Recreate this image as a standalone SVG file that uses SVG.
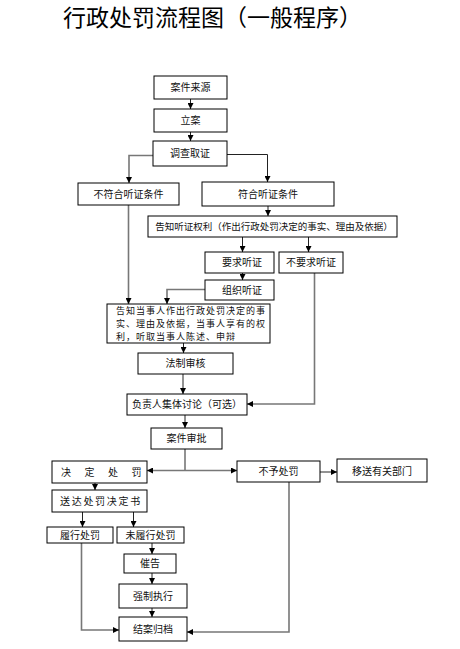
<svg xmlns="http://www.w3.org/2000/svg" width="460" height="649" viewBox="0 0 460 649">
<style>
.b{fill:#fff;stroke:#000;stroke-width:1}
.t{font-family:"Noto Sans CJK SC","Noto Sans",sans-serif;font-size:10px;fill:#111;text-anchor:middle}
.l{font-family:"Noto Sans CJK SC","Noto Sans",sans-serif;font-size:10px;fill:#111}
.m{font-family:"Noto Sans CJK SC","Noto Sans",sans-serif;font-size:9px;letter-spacing:1px;fill:#111}
.c{fill:none;stroke:#222;stroke-width:1}
.g{fill:none;stroke:#777;stroke-width:1.6}
</style>
<defs>
<marker id="a" markerUnits="userSpaceOnUse" markerWidth="6" markerHeight="6" refX="6" refY="3" orient="auto">
<path d="M0,0 L6,3 L0,6 z" fill="#000"/>
</marker>
</defs>
<rect width="460" height="649" fill="#fff"/>
<text x="63" y="26" style="font-family:'Noto Sans CJK SC',sans-serif;font-size:23px;fill:#000">行政处罚流程图（一般程序）</text>

<g id="connectors">
<path class="c" d="M190.5,99 V109" marker-end="url(#a)"/>
<path class="c" d="M190.5,132 V141" marker-end="url(#a)"/>
<path class="g" d="M153,155.5 H129 V183" marker-end="url(#a)"/>
<path class="c" d="M227,154.5 H267.5 V182" marker-end="url(#a)"/>
<path class="c" d="M268,206 V216" marker-end="url(#a)"/>
<path class="c" d="M242.5,237 V252" marker-end="url(#a)"/>
<path class="c" d="M308.5,237 V252" marker-end="url(#a)"/>
<path class="c" d="M242.5,273 V280" marker-end="url(#a)"/>
<path class="g" d="M205,289.5 H167 V304" marker-end="url(#a)"/>
<path class="g" d="M128.5,205 V304" marker-end="url(#a)"/>
<path class="c" d="M183.5,343 V353" marker-end="url(#a)"/>
<path class="g" d="M183,374 V394" marker-end="url(#a)"/>
<path class="g" d="M314.5,273 V404 H247" marker-end="url(#a)"/>
<path class="c" d="M185,415 V428" marker-end="url(#a)"/>
<path class="g" d="M185,449 V470.5"/>
<path class="g" d="M185,470.5 H147" marker-end="url(#a)"/>
<path class="g" d="M185,470.5 H237" marker-end="url(#a)"/>
<path class="g" d="M320,472 H337" marker-end="url(#a)"/>
<path class="c" d="M95,483 V490" marker-end="url(#a)"/>
<path class="c" d="M82.5,512 V527" marker-end="url(#a)"/>
<path class="c" d="M133.5,512 V527" marker-end="url(#a)"/>
<path class="c" d="M152,543 V554" marker-end="url(#a)"/>
<path class="c" d="M152,573 V584" marker-end="url(#a)"/>
<path class="c" d="M152,608 V617" marker-end="url(#a)"/>
<path class="g" d="M81.5,543 V630 H119" marker-end="url(#a)"/>
<path class="g" d="M289,482 V632 H187" marker-end="url(#a)"/>
</g>

<g id="n1"><rect class="b" x="154" y="76" width="73" height="23"/><text class="t" x="190.5" y="91">案件来源</text></g>
<g id="n2"><rect class="b" x="154" y="109" width="73" height="23"/><text class="t" x="190.5" y="124">立案</text></g>
<g id="n3"><rect class="b" x="153" y="141" width="74" height="25"/><text class="t" x="190" y="157">调查取证</text></g>
<g id="n4"><rect class="b" x="78" y="183" width="101" height="22"/><text class="t" x="128.5" y="197.5">不符合听证条件</text></g>
<g id="n5"><rect class="b" x="202" y="182" width="132" height="24"/><text class="t" x="268" y="197.5">符合听证条件</text></g>
<g id="n6"><rect class="b" x="148" y="216" width="249" height="21"/><text class="t" x="274" y="230" style="font-size:9.5px">告知听证权利（作出行政处罚决定的事实、理由及依据）</text></g>
<g id="n7"><rect class="b" x="205" y="252" width="69" height="21"/><text class="t" x="242" y="266">要求听证</text></g>
<g id="n8"><rect class="b" x="279" y="252" width="64" height="21"/><text class="t" x="311" y="266">不要求听证</text></g>
<g id="n9"><rect class="b" x="205" y="280" width="69" height="20"/><text class="t" x="242" y="294">组织听证</text></g>
<g id="n10"><rect class="b" x="107" y="304" width="163" height="39"/>
<text class="m" x="116" y="313.5">告知当事人作出行政处罚决定的事</text>
<text class="m" x="116" y="326.5">实、理由及依据，当事人享有的权</text>
<text class="m" x="116" y="339.5">利，听取当事人陈述、申辩</text></g>
<g id="n11"><rect class="b" x="138" y="353" width="95" height="21"/><text class="t" x="185.5" y="367">法制审核</text></g>
<g id="n12"><rect class="b" x="127" y="394" width="120" height="21"/><text class="t" x="187" y="408">负责人集体讨论（可选）</text></g>
<g id="n13"><rect class="b" x="151" y="428" width="71" height="21"/><text class="t" x="186.5" y="442">案件审批</text></g>
<g id="n14"><rect class="b" x="52" y="461" width="95" height="22"/><text class="l" x="61" y="475.5" style="letter-spacing:13.5px">决定处罚</text></g>
<g id="n15"><rect class="b" x="237" y="461" width="83" height="21"/><text class="t" x="278.5" y="475">不予处罚</text></g>
<g id="n16"><rect class="b" x="337" y="459" width="90" height="23"/><text class="t" x="382" y="474.5">移送有关部门</text></g>
<g id="n17"><rect class="b" x="52" y="490" width="95" height="22"/><text class="l" x="60" y="504.5" style="letter-spacing:1.7px">送达处罚决定书</text></g>
<g id="n18"><rect class="b" x="47" y="527" width="66" height="16"/><text class="t" x="80" y="539">履行处罚</text></g>
<g id="n19"><rect class="b" x="117" y="527" width="67" height="16"/><text class="t" x="150.5" y="539">未履行处罚</text></g>
<g id="n20"><rect class="b" x="124" y="554" width="52" height="19"/><text class="t" x="150" y="567">催告</text></g>
<g id="n21"><rect class="b" x="119" y="584" width="68" height="24"/><text class="t" x="153" y="599.5">强制执行</text></g>
<g id="n22"><rect class="b" x="119" y="617" width="68" height="24"/><text class="t" x="153" y="632.5">结案归档</text></g>
</svg>
